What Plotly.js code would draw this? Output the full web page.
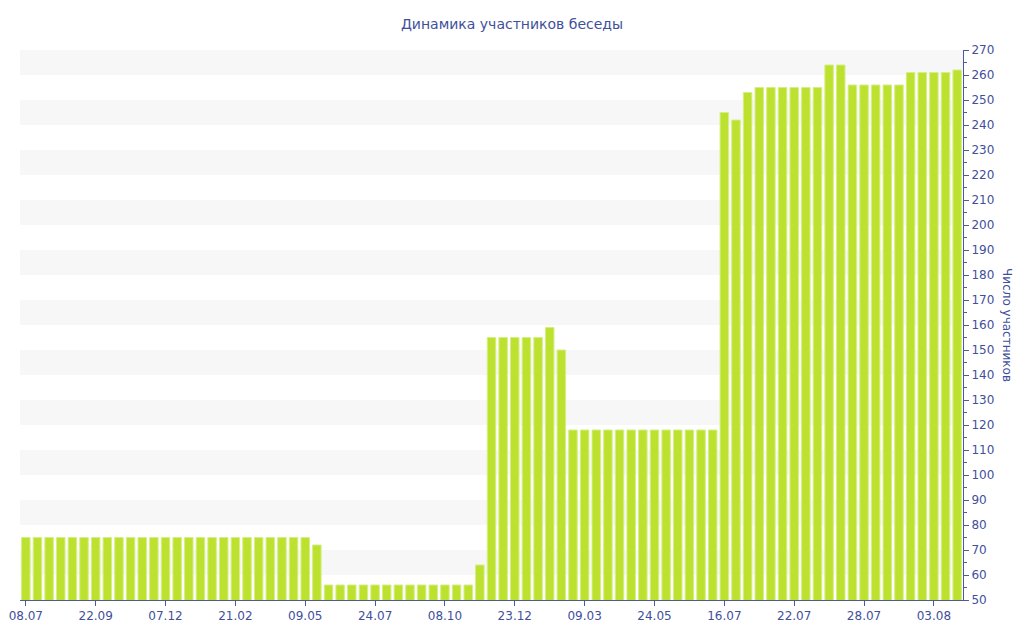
<!DOCTYPE html>
<html><head><meta charset="utf-8">
<script src="https://cdn.plot.ly/plotly-3.0.1.min.js"></script>
<style>html,body{margin:0;padding:0;background:#fff}#chart{width:1024px;height:640px}</style>
</head><body><div id="chart"></div>
<script>
// Data
const barIndex = Array.from({length: 81}, (_, i) => i);
const members = [
  75,75,75,75,75,75,75,75,75,75,75,75,75,75,75,75,75,75,75,75,75,75,75,75,75,
  72,
  56,56,56,56,56,56,56,56,56,56,56,56,56,
  64,
  155,155,155,155,155,159,150,
  118,118,118,118,118,118,118,118,118,118,118,118,118,
  245,242,253,255,255,255,255,255,255,264,264,256,256,256,256,256,261,261,261,261,262
];
const tickPositions = [0,6,12,18,24,30,36,42,48,54,60,66,72,78];
const tickLabels = ['08.07','22.09','07.12','21.02','09.05','24.07','08.10','23.12','09.03','24.05','16.07','22.07','28.07','03.08'];

const textColor = '#3f4f9c';
const axisColor = '#4a5a9a';

const shapes = [];
for (let v = 60; v < 270; v += 20) {
  shapes.push({type:'rect', xref:'paper', yref:'y', x0:0, x1:1, y0:v, y1:v+10,
    fillcolor:'#f7f7f7', line:{width:0}, layer:'below'});
}

Plotly.newPlot('chart', [{
  type:'bar', x: barIndex, y: members,
  marker:{color:'#bde12f', line:{color:'#d6ee86', width:1}},
  hoverinfo:'y'
}], {
  width:1024, height:640,
  margin:{l:20, r:61, t:50, b:40},
  paper_bgcolor:'#fff', plot_bgcolor:'rgba(0,0,0,0)',
  font:{family:'DejaVu Sans, Verdana, sans-serif', size:12, color:textColor},
  title:{text:'Динамика участников беседы', x:0.5, xanchor:'center', y:0.963, yanchor:'middle',
    font:{size:14, color:textColor}},
  bargap:0.27,
  showlegend:false,
  shapes: shapes,
  xaxis:{range:[-0.5,80.5], tickmode:'array', tickvals:tickPositions, ticktext:tickLabels,
    showgrid:false, zeroline:false, showline:true, linecolor:axisColor, linewidth:1,
    ticks:'outside', ticklen:5, tickcolor:axisColor, tickfont:{size:12, color:textColor}},
  yaxis:{side:'right', range:[50,270], dtick:10, tick0:50, showgrid:false, zeroline:false,
    showline:true, linecolor:axisColor, linewidth:1, ticks:'outside', ticklen:5, tickcolor:axisColor,
    minor:{dtick:5, ticks:'outside', ticklen:3, tickcolor:axisColor},
    tickfont:{size:12, color:textColor}},
  annotations:[{text:'Число участников', xref:'paper', yref:'paper', x:1.037, y:0.5,
    xanchor:'left', yanchor:'middle', textangle:90, showarrow:false,
    font:{size:12, color:textColor}}]
}, {displayModeBar:false});
</script></body></html>
